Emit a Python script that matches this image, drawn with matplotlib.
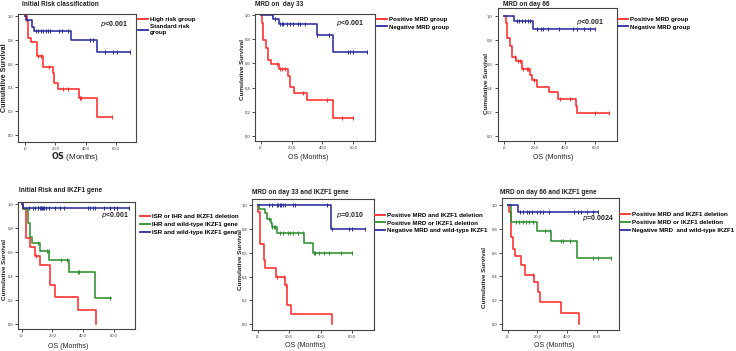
import numpy as np
import matplotlib
matplotlib.use("Agg")
import matplotlib.pyplot as plt
from matplotlib.lines import Line2D

plt.rcParams['font.family'] = ['Liberation Sans', 'DejaVu Sans']

W, H = 736, 351
RED = '#ff2b2b'
BLUE = '#2c2ca0'
GREEN = '#2f8f2f'

# ---- data (months, cumulative survival) ----
# Initial risk classification
high_t = [0, 1.1, 2.2, 4.0, 8.1, 11.6, 18.2, 19.3, 22.0, 35.8, 47.7, 57.1]
high_s = [1.0, 0.961, 0.812, 0.779, 0.664, 0.574, 0.518, 0.44, 0.384, 0.308, 0.154, 0.154]
high_c = [8.8, 10.3, 16.0, 24.9, 28.6, 36.3, 37.0, 57.1]
std_t = [0, 0.7, 4.8, 6.2, 30.1, 47.3, 69.2]
std_s = [1.0, 0.966, 0.905, 0.874, 0.796, 0.695, 0.695]
std_c = [7.0, 8.8, 10.3, 12.1, 13.6, 14.9, 16.5, 22.6, 24.6, 28.4, 42.9, 44.6,
         53.0, 58.2, 60.4, 69.2]

# MRD day 33
pos33_t = [0, 0.65, 1.7, 3.5, 4.5, 6.5, 12.1, 17.9, 19.0, 21.8, 29.8, 47.1, 60.0]
pos33_s = [1.0, 0.934, 0.795, 0.726, 0.629, 0.593, 0.554, 0.499, 0.402, 0.357,
           0.296, 0.144, 0.144]
pos33_c = [10.8, 12.5, 13.6, 15.8, 27.6, 43.2, 52.4, 60.0]
neg33_t = [0, 8.2, 12.1, 36.3, 47.1, 68.6]
neg33_s = [1.0, 0.967, 0.928, 0.837, 0.698, 0.698]
neg33_c = [7.1, 9.3, 12.5, 13.6, 14.7, 16.8, 19.0, 21.2, 24.4, 25.5, 28.7, 36.7,
           44.5, 56.8, 57.8, 60.0, 68.6]

# MRD day 66
pos66_t = [0, 1.3, 1.75, 3.9, 5.0, 7.9, 11.6, 17.1, 18.6, 21.9, 29.8, 35.7, 47.3, 48.1, 69.1]
pos66_s = [1.0, 0.94, 0.814, 0.75, 0.656, 0.625, 0.556, 0.508, 0.467, 0.411, 0.364,
           0.308, 0.25, 0.189, 0.189]
pos66_c = [7.2, 9.4, 10.5, 12.7, 14.9, 16.0, 19.7, 36.8, 43.4, 59.8, 69.2]
neg66_t = [0, 6.8, 19.3, 59.7]
neg66_s = [1.0, 0.961, 0.889, 0.889]
neg66_c = [8.3, 10.1, 11.6, 13.8, 15.5, 17.1, 21.9, 24.3, 25.8, 28.7, 36.3, 45.5,
           47.7, 52.8, 56.5, 59.8]

# Initial risk and IKZF1
rdel_t = [0, 0.66, 2.6, 5.5, 8.7, 12.0, 18.6, 21.8, 36.5, 48.5]
rdel_s = [1.0, 0.958, 0.716, 0.646, 0.568, 0.493, 0.326, 0.223, 0.117, 0.0]
rdel_c = [9.4]
ihr_t = [0, 1.1, 4.4, 5.5, 7.0, 12.0, 18.1, 30.6, 48.0, 57.9]
ihr_s = [1.0, 0.958, 0.841, 0.73, 0.68, 0.613, 0.535, 0.432, 0.22, 0.22]
ihr_c = [10.9, 16.4, 17.5, 25.5, 29.5, 36.4, 37.3, 57.8]
isr_t = [0, 1.1, 69.9]
isr_s = [1.0, 0.967, 0.967]
isr_c = [5.0, 7.6, 8.7, 10.3, 10.9, 11.6, 12.4, 13.1, 13.7, 14.6, 15.9, 18.1, 21.8,
         24.7, 27.3, 43.0, 44.7, 46.5, 48.0, 53.5, 57.8, 60.0, 62.2, 69.8]

# MRD day 33 and IKZF1
and33_t = [0, 0.6, 1.7, 4.2, 4.8, 11.7, 17.3, 18.75, 21.5, 47.5]
and33_s = [1.0, 0.944, 0.67, 0.539, 0.469, 0.4, 0.33, 0.162, 0.084, 0.0]
and33_c = [12.1, 16.7, 17.9]
or33_t = [0, 1.25, 4.8, 6.25, 8.3, 9.0, 12.1, 29.8, 35.4, 60.0]
or33_s = [1.0, 0.964, 0.93, 0.88, 0.846, 0.813, 0.768, 0.684, 0.595, 0.595]
or33_c = [7.5, 9.4, 10.6, 11.0, 14.2, 16.25, 19.4, 20.4, 22.5, 25.6, 28.75, 36.0,
          36.7, 39.2, 42.3, 45.4, 52.7, 60.0]
wt33_t = [0, 46.5, 68.3]
wt33_s = [1.0, 0.799, 0.799]
wt33_c = [7.5, 9.0, 12.1, 13.1, 14.2, 15.2, 16.25, 17.3, 22.5, 23.5, 44.4, 47.5,
          57.9, 60.0, 68.3]

# MRD day 66 and IKZF1
and66_t = [0, 1.3, 2.2, 4.0, 5.1, 8.8, 11.7, 17.9, 20.6, 21.7, 35.6, 47.8]
and66_s = [1.0, 0.944, 0.734, 0.63, 0.574, 0.496, 0.412, 0.356, 0.272, 0.188, 0.095, 0.0]
and66_c = [17.3]
or66_t = [0, 2.4, 19.5, 29.4, 46.7, 69.2]
or66_s = [1.0, 0.86, 0.782, 0.697, 0.557, 0.557]
or66_c = [5.8, 8.0, 10.2, 12.4, 14.6, 16.8, 25.0, 28.3, 36.1, 37.2, 41.6, 57.1, 60.4, 69.3]
wt66_t = [0, 7.3, 60.4]
wt66_s = [1.0, 0.944, 0.944]
wt66_c = [8.4, 10.6, 12.8, 14.6, 16.2, 19.5, 22.1, 23.9, 27.9, 44.9, 47.2, 49.4,
          53.1, 57.1, 60.4]

x_ticks = [0, 20, 40, 60]
x_ticklabels = [',0', '20,0', '40,0', '60,0']
y_ticks = [0, 0.2, 0.4, 0.6, 0.8, 1.0]
y_ticklabels = ['0,0', '0,2', '0,4', '0,6', '0,8', '1,0']

# layout in reference pixels: rect = (left, top, right, bottom),
# ticks_px = (x of 0, x of 60, y of 1.0, y of 0.0)
panels = [
    dict(title='Initial Risk classification', title_xy=(22, 5),
         rect=(18, 14, 136, 142), ticks_px=(25, 116, 16, 135),
         curves=[('High risk group', RED, high_t, high_s, high_c),
                 ('Standard risk\ngroup', BLUE, std_t, std_s, std_c)],
         p='<0.001', p_xy=(114, 24), leg_xy=(138, 15.5), ylab_xy=(5, 78), ylab_size=5.1,
         xlab_xy=(75, 156.5), bigOS=True),
    dict(title='MRD on  day 33', title_xy=(255, 5),
         rect=(255, 14, 375, 141), ticks_px=(260.7, 353.3, 15.3, 135.7),
         curves=[('Positive MRD group', RED, pos33_t, pos33_s, pos33_c),
                 ('Negative MRD group', BLUE, neg33_t, neg33_s, neg33_c)],
         p='<0.001', p_xy=(350, 23), leg_xy=(377, 15.5), ylab_xy=(242.5, 70), ylab_size=4.6,
         xlab_xy=(308, 157.5), bigOS=False),
    dict(title='MRD on day 66', title_xy=(503, 4.5),
         rect=(497.5, 8, 617, 141), ticks_px=(504, 595.3, 16, 136),
         curves=[('Positive MRD group', RED, pos66_t, pos66_s, pos66_c),
                 ('Negative MRD group', BLUE, neg66_t, neg66_s, neg66_c)],
         p='<0.001', p_xy=(590, 22), leg_xy=(618, 15.5), ylab_xy=(486, 83), ylab_size=4.6,
         xlab_xy=(553, 157.5), bigOS=False),
    dict(title='Initial Risk and IKZF1 gene', title_xy=(19, 190),
         rect=(18, 202, 135, 329), ticks_px=(21.7, 113.8, 204.3, 324),
         curves=[('ISR or IHR and IKZF1 deletion', RED, rdel_t, rdel_s, rdel_c),
                 ('IHR and wild-type IKZF1 gene', GREEN, ihr_t, ihr_s, ihr_c),
                 ('ISR and wild-type IKZF1 gene', BLUE, isr_t, isr_s, isr_c)],
         p='<0.001', p_xy=(115, 215), leg_xy=(140, 213), ylab_xy=(4.5, 270), ylab_size=4.6,
         xlab_xy=(68, 346), bigOS=False),
    dict(title='MRD on day 33 and IKZF1 gene', title_xy=(252, 192),
         rect=(252, 199, 374, 330), ticks_px=(257.5, 352, 205, 324.3),
         curves=[('Positive MRD and IKZF1 deletion', RED, and33_t, and33_s, and33_c),
                 ('Positive MRD or IKZF1 deletion', GREEN, or33_t, or33_s, or33_c),
                 ('Negative MRD and wild-type IKZF1', BLUE, wt33_t, wt33_s, wt33_c)],
         p='=0.010', p_xy=(350, 215), leg_xy=(375, 211.5), ylab_xy=(240, 260), ylab_size=4.6,
         xlab_xy=(305, 345.5), bigOS=False),
    dict(title='MRD on day 66 and IKZF1 gene', title_xy=(500, 193),
         rect=(502, 198, 618.5, 330), ticks_px=(507.5, 597, 205, 324),
         curves=[('Positive MRD and IKZF1 deletion', RED, and66_t, and66_s, and66_c),
                 ('Positive MRD or IKZF1 deletion', GREEN, or66_t, or66_s, or66_c),
                 ('Negative MRD  and wild-type IKZF1', BLUE, wt66_t, wt66_s, wt66_c)],
         p='=0.0024', p_xy=(598, 218), leg_xy=(620, 211), ylab_xy=(485, 277), ylab_size=4.6,
         xlab_xy=(554, 345.5), bigOS=False),
]


def fx(px):
    return px / W


def fy(py):
    return 1 - py / H


def step_value(t, s, times):
    idx = np.searchsorted(t, times, side='right') - 1
    return np.asarray(s)[idx]


fig = plt.figure(figsize=(W / 100, H / 100), dpi=100)

for p in panels:
    l, t, r, b = p['rect']
    ax = fig.add_axes([fx(l), fy(b), (r - l) / W, (b - t) / H])
    x0, x60, y1, y0 = p['ticks_px']
    xs = (x60 - x0) / 60.0
    ys = (y0 - y1)
    ax.set_xlim((l - x0) / xs, (r - x0) / xs)
    ax.set_ylim((y0 - b) / ys, (y0 - t) / ys)

    handles = []
    for label, col, tt, ss, cc in p['curves']:
        ax.step(tt, ss, where='post', color=col, lw=1.15)
        ax.plot(cc, step_value(tt, ss, cc), ls='none', marker='|', ms=3.5,
                mew=0.7, color=col)
        handles.append(Line2D([], [], color=col, lw=1.3))

    ax.set_xticks(x_ticks)
    ax.set_xticklabels(x_ticklabels)
    ax.set_yticks(y_ticks)
    ax.set_yticklabels(y_ticklabels)
    ax.tick_params(labelsize=3, length=2, width=0.6, pad=1.5, colors='#333333')
    for sp in ax.spines.values():
        sp.set_linewidth(0.8)
        sp.set_color('#444444')

    fig.text(fx(p['title_xy'][0]), fy(p['title_xy'][1]), p['title'],
             fontsize=4.7, fontweight='bold', ha='left', va='center', color='#222222')
    fig.text(fx(p['p_xy'][0]), fy(p['p_xy'][1]), r'$\it{p}$' + p['p'],
             fontsize=5, fontweight='bold', ha='center', va='center', color='#222222')
    fig.text(fx(p['ylab_xy'][0]), fy(p['ylab_xy'][1]), 'Cumulative Survival',
             fontsize=p['ylab_size'], fontweight='bold', rotation=90, ha='center',
             va='center', color='#222222')
    if p['bigOS']:
        fig.text(fx(p['xlab_xy'][0]), fy(p['xlab_xy'][1]), r'$\bf{OS}$ (Months)',
                 fontsize=5.8, ha='center', va='center', color='#222222')
    else:
        fig.text(fx(p['xlab_xy'][0]), fy(p['xlab_xy'][1]), 'OS (Months)',
                 fontsize=5, ha='center', va='center', color='#222222')

    ax.legend(handles, [c[0] for c in p['curves']], loc='upper left',
              bbox_to_anchor=(fx(p['leg_xy'][0]), fy(p['leg_xy'][1] + 1)),
              bbox_transform=fig.transFigure, frameon=False, borderpad=0,
              borderaxespad=0, handlelength=1.7, handletextpad=0.2,
              labelspacing=0.42, prop=dict(size=4.4, weight='bold'))

fig.savefig('out.png', dpi=100)
